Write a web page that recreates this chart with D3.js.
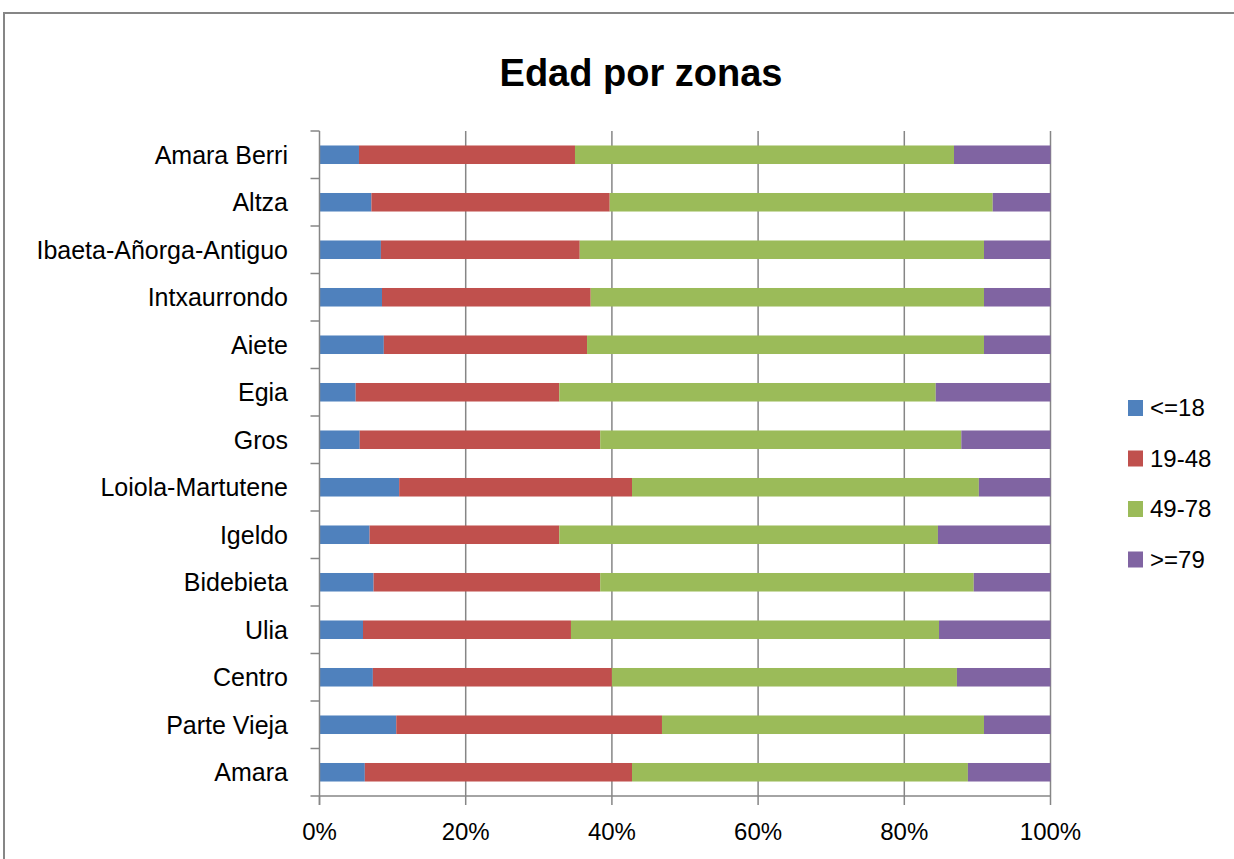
<!doctype html>
<html>
<head>
<meta charset="utf-8">
<script src="https://d3js.org/d3.v7.min.js"></script>
<style>
body { margin:0; background:#fff; }
text { font-family: "Liberation Sans", Arial, sans-serif; fill:#000; }
</style>
</head>
<body>
<script>
// data, top row first
var zonas = ['Amara Berri','Altza','Ibaeta-Añorga-Antiguo','Intxaurrondo','Aiete','Egia','Gros',
             'Loiola-Martutene','Igeldo','Bidebieta','Ulia','Centro','Parte Vieja','Amara'];
var grupos = ['<=18','19-48','49-78','>=79'];
var menor18 = [5.4, 7.1, 8.4, 8.55, 8.8, 4.95, 5.5, 10.9, 6.85, 7.4, 5.95, 7.3, 10.5, 6.2];
var de19a48 = [29.55, 32.6, 27.2, 28.55, 27.8, 27.85, 32.9, 31.85, 25.95, 31.0, 28.45, 32.7, 36.35, 36.55];
var de49a78 = [51.85, 52.4, 55.3, 53.8, 54.3, 51.5, 49.4, 47.45, 51.8, 51.1, 50.35, 47.2, 44.05, 45.95];
var mayor79 = [13.2, 7.9, 9.1, 9.1, 9.1, 15.7, 12.2, 9.8, 15.4, 10.5, 15.25, 12.8, 9.1, 11.3];
var xTicks = [0, 0.2, 0.4, 0.6, 0.8, 1];
var colores = ['#4f81bd','#c0504d','#9bbb59','#8064a2'];

var W = 1234, H = 859;
var svg = d3.select('body').append('svg').attr('width', W).attr('height', H);

// outer chart frame
svg.append('rect').attr('x',4).attr('y',13).attr('width',1300).attr('height',900)
   .attr('fill','#fff').attr('stroke','#868686').attr('stroke-width',2);

svg.append('text').attr('x',641).attr('y',86).attr('text-anchor','middle')
   .style('font-size','38px').style('font-weight','bold').text('Edad por zonas');

var rows = zonas.map(function(z,i){
	return {zona:z, '<=18':menor18[i], '19-48':de19a48[i], '49-78':de49a78[i], '>=79':mayor79[i]};
});
var series = d3.stack().keys(grupos).offset(d3.stackOffsetExpand)(rows);

var pLeft = 319.5, pRight = 1050.5, pTop = 131, pBottom = 796;
var x = d3.scaleLinear().domain([0,1]).range([pLeft, pRight]);
var y = d3.scaleBand().domain(zonas).range([pTop, pBottom]).paddingInner(0.61).paddingOuter(0.305);
var yEdges = d3.scaleLinear().domain([0, zonas.length]).range([pTop, pBottom]);

// vertical gridlines
svg.append('g').selectAll('line').data(xTicks.slice(1)).enter().append('line')
   .attr('x1',function(d){return x(d);}).attr('x2',function(d){return x(d);})
   .attr('y1',pTop).attr('y2',pBottom)
   .attr('stroke','#868686').attr('stroke-width',1.5);

// bars
svg.append('g').selectAll('g').data(series).enter().append('g')
   .attr('fill',function(d,i){return colores[i];})
   .selectAll('rect').data(function(d){return d;}).enter().append('rect')
   .attr('x',function(d){return x(d[0]);})
   .attr('width',function(d){return x(d[1]) - x(d[0]);})
   .attr('y',function(d){return y(d.data.zona);})
   .attr('height',y.bandwidth());

// left axis with ticks between categories
var axisG = svg.append('g').attr('stroke','#868686').attr('stroke-width',1.5);
axisG.append('line').attr('x1',pLeft).attr('x2',pLeft).attr('y1',pTop).attr('y2',pBottom+9);
axisG.selectAll('.yt').data(d3.range(zonas.length+1)).enter().append('line')
   .attr('x1',pLeft-9).attr('x2',pLeft).attr('y1',function(d){return yEdges(d);}).attr('y2',function(d){return yEdges(d);});
axisG.append('line').attr('x1',pLeft).attr('x2',pRight).attr('y1',pBottom).attr('y2',pBottom);
axisG.selectAll('.xt').data(xTicks).enter().append('line')
   .attr('x1',function(d){return x(d);}).attr('x2',function(d){return x(d);})
   .attr('y1',pBottom).attr('y2',pBottom+9);

svg.append('g').selectAll('text').data(zonas).enter().append('text')
   .attr('x',288).attr('y',function(d){return y(d) + y.bandwidth()/2;})
   .attr('dy','0.35em').attr('text-anchor','end').style('font-size','25px')
   .text(function(d){return d;});

svg.append('g').selectAll('text').data(xTicks).enter().append('text')
   .attr('x',function(d){return x(d);}).attr('y',840).attr('text-anchor','middle')
   .style('font-size','24px').text(d3.format('.0%'));

// legend
var legend = svg.append('g').selectAll('g').data(grupos).enter().append('g')
   .attr('transform',function(d,i){return 'translate(1128,' + (408 + i*50.5) + ')';});
legend.append('rect').attr('x',0).attr('y',-8).attr('width',15).attr('height',16)
   .attr('fill',function(d,i){return colores[i];});
legend.append('text').attr('x',22).attr('dy','0.35em').style('font-size','24px')
   .text(function(d){return d;});
</script>
</body>
</html>
